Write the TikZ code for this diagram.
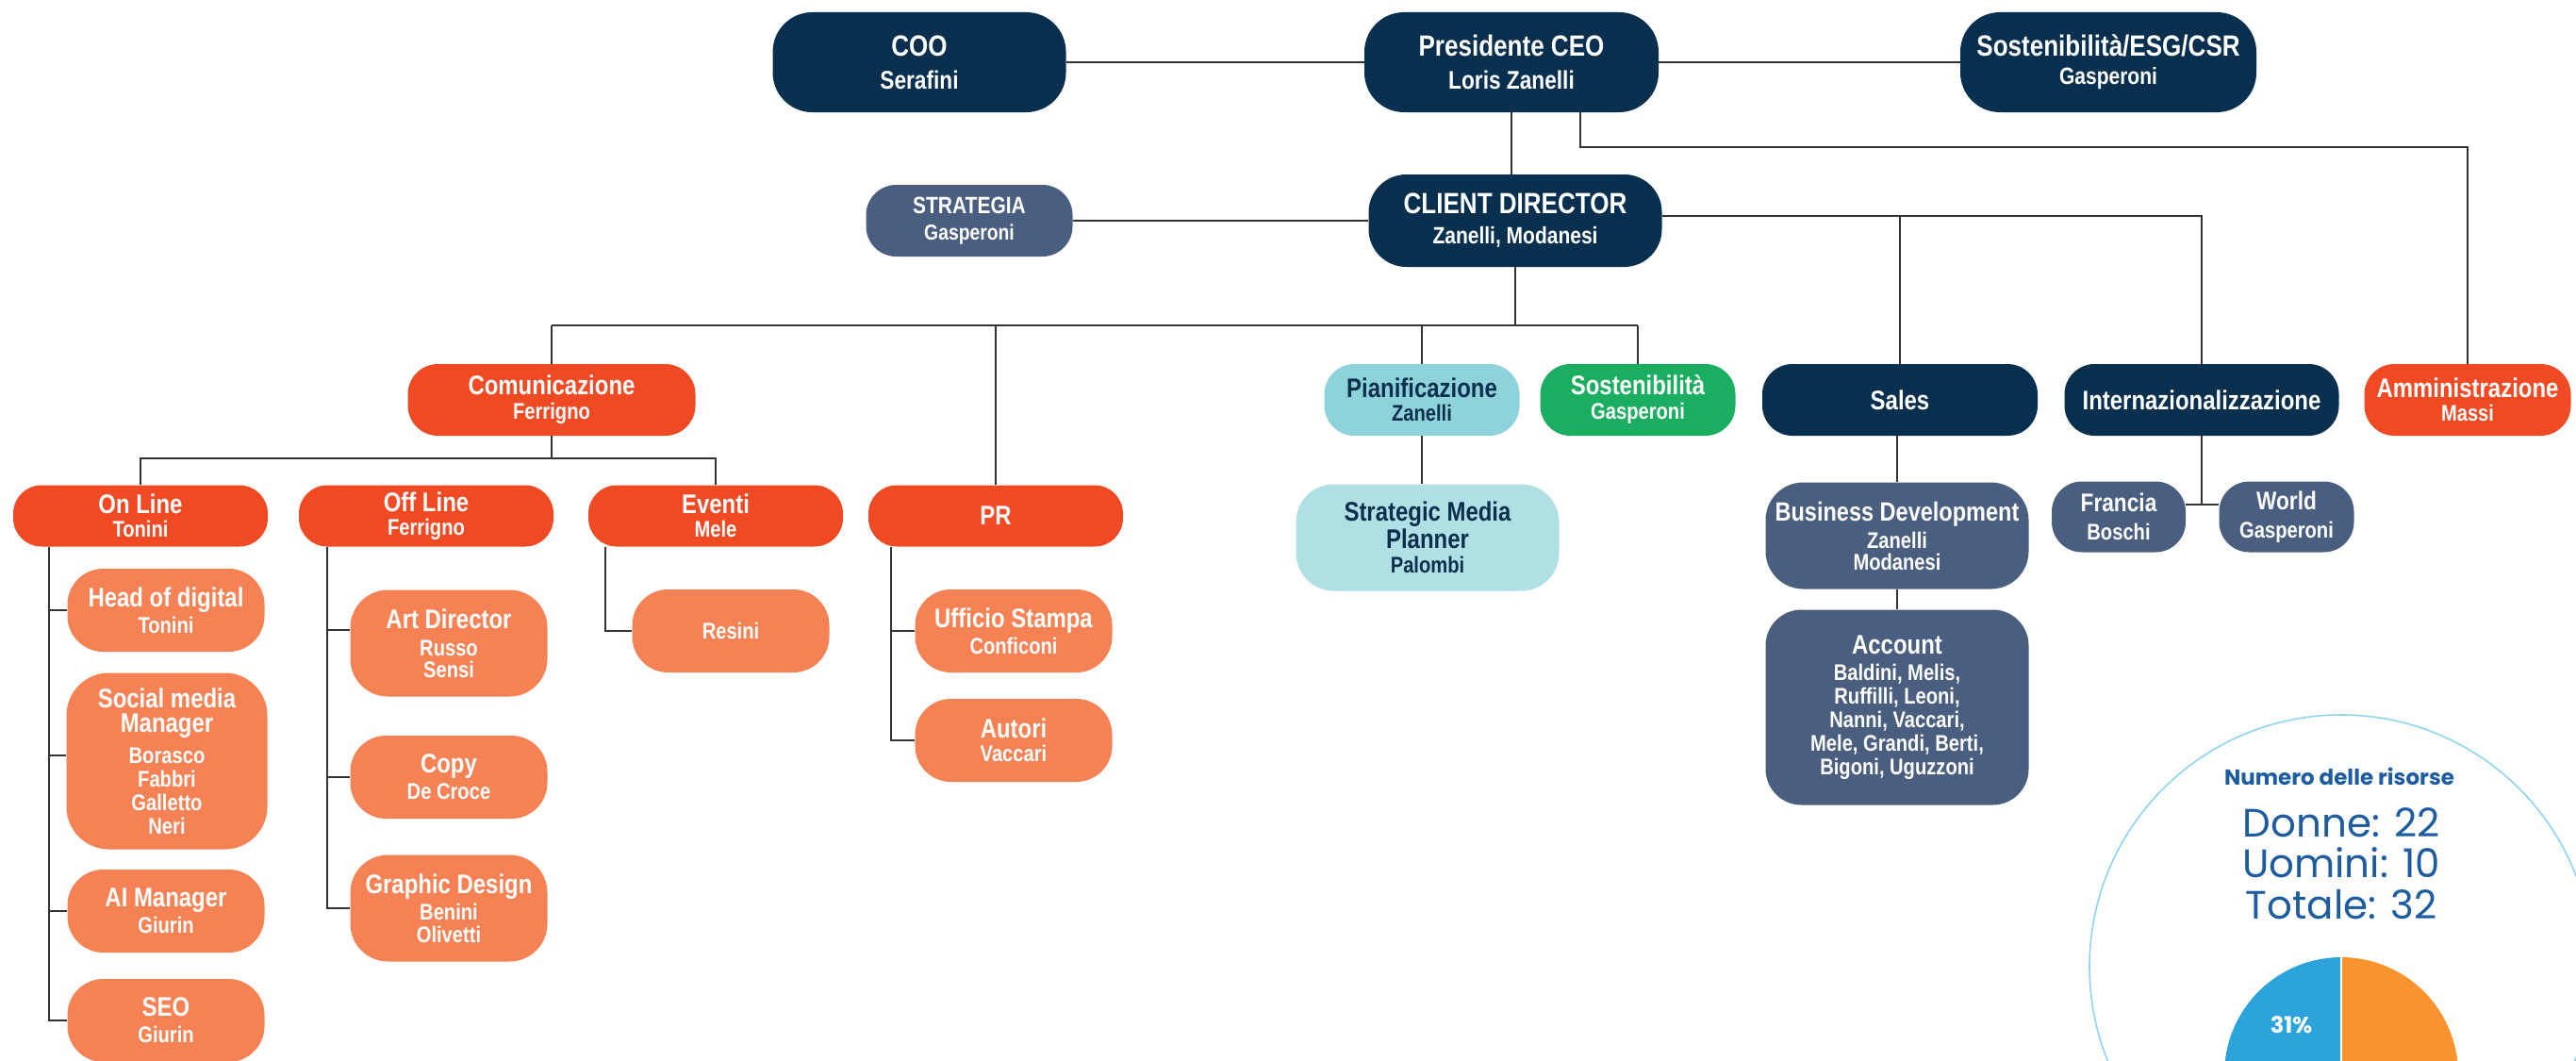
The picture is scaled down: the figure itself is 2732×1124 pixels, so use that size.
\documentclass[tikz,border=0pt]{standalone}
\usepackage{fontspec}
\setmainfont{Liberation Sans}[FakeStretch=0.84]
\newfontfamily\popfont{Poppins}
\definecolor{navy}{HTML}{08304E}
\definecolor{slate}{HTML}{4A5F7F}
\definecolor{redor}{HTML}{F04A24}
\definecolor{lightor}{HTML}{F48254}
\definecolor{tealc}{HTML}{8ED3DA}
\definecolor{ltealc}{HTML}{B0DFE4}
\definecolor{greenc}{HTML}{1BAE60}
\definecolor{linegray}{HTML}{333333}
\definecolor{circblue}{HTML}{8FD4F2}
\definecolor{txtblue}{HTML}{1D5C9F}
\definecolor{pieblue}{HTML}{2CA3DB}
\definecolor{pieorange}{HTML}{F7942E}
\newcommand\szTop{\fontsize{31}{31}\selectfont}
\newcommand\szTit{\fontsize{28.5}{28.5}\selectfont}
\tikzset{
  nbox/.style={rectangle, inner sep=0pt, align=center, text=white,
    font=\bfseries\fontsize{24}{25}\selectfont},
  conn/.style={draw=linegray, line width=1.4pt},
}
\begin{document}
\begin{tikzpicture}[x=1pt,y=-1pt]
\useasboundingbox (0,0) rectangle (2732,1124);
\clip (0,0) rectangle (2732,1124);
\fill[white] (0,0) rectangle (2732,1124);

% ---------- top level
\node[nbox, fill=navy, minimum width=311pt, minimum height=106pt, rounded corners=42pt,
  font=\bfseries\fontsize{27}{28}\selectfont] (coo) at (975,66) {{\szTop COO}\\[7pt]Serafini};
\node[nbox, fill=navy, minimum width=312pt, minimum height=106pt, rounded corners=42pt,
  font=\bfseries\fontsize{27}{28}\selectfont] (ceo) at (1603,66) {{\szTop Presidente CEO}\\[7pt]Loris Zanelli};
\node[nbox, fill=navy, minimum width=314pt, minimum height=106pt, rounded corners=42pt,
  font=\bfseries\fontsize{25}{26}\selectfont] (esg) at (2236,66) {{\szTop Sostenibilità/ESG/CSR}\\[4pt]Gasperoni};
\node[nbox, fill=slate, minimum width=219pt, minimum height=76pt, rounded corners=32pt,
  font=\bfseries\fontsize{23}{24}\selectfont] (strat) at (1028,234) {{\fontsize{25}{25}\selectfont STRATEGIA}\\[4pt]Gasperoni};
\node[nbox, fill=navy, minimum width=311pt, minimum height=98pt, rounded corners=40pt,
  font=\bfseries\fontsize{25}{26}\selectfont] (cd) at (1607,234) {{\szTop CLIENT DIRECTOR}\\[6pt]Zanelli, Modanesi};

% ---------- second level
\node[nbox, fill=redor, minimum width=305pt, minimum height=76pt, rounded corners=32pt] (comm) at (585,424) {{\szTit Comunicazione}\\[1pt]Ferrigno};
\node[nbox, fill=tealc, text=navy, minimum width=207pt, minimum height=76pt, rounded corners=32pt] (pian) at (1508,424) {{\szTit Pianificazione}\\[0pt]Zanelli};
\node[nbox, fill=greenc, minimum width=207pt, minimum height=76pt, rounded corners=32pt] (sost) at (1737,424) {{\szTit Sostenibilità}\\[1pt]Gasperoni};
\node[nbox, fill=navy, minimum width=292pt, minimum height=76pt, rounded corners=32pt] (sales) at (2015,424) {\szTit Sales};
\node[nbox, fill=navy, minimum width=291pt, minimum height=76pt, rounded corners=32pt] (intl) at (2335,424) {\szTit Internazionalizzazione};
\node[nbox, fill=redor, minimum width=219pt, minimum height=76pt, rounded corners=32pt] (amm) at (2617,424) {{\szTit Amministrazione}\\[0pt]Massi};

% ---------- third level
\node[nbox, fill=redor, minimum width=270pt, minimum height=65pt, rounded corners=30pt] (online) at (149,547) {{\szTit On Line}\\[0pt]Tonini};
\node[nbox, fill=redor, minimum width=270pt, minimum height=65pt, rounded corners=30pt] (offline) at (452,547) {{\szTit Off Line}\\[0pt]Ferrigno};
\node[nbox, fill=redor, minimum width=270pt, minimum height=65pt, rounded corners=30pt] (eventi) at (759,547) {{\szTit Eventi}\\[0pt]Mele};
\node[nbox, fill=redor, minimum width=270pt, minimum height=65pt, rounded corners=30pt] (pr) at (1056,547) {\szTit PR};
\node[nbox, fill=ltealc, text=navy, minimum width=279pt, minimum height=113pt, rounded corners=40pt] (smp) at (1514,570) {{\szTit Strategic Media}\\[1pt]{\szTit Planner}\\[1pt]Palombi};
\node[nbox, fill=slate, minimum width=279pt, minimum height=113pt, rounded corners=40pt] (bd) at (2012,568) {{\fontsize{28}{28}\selectfont Business Development}\\[4pt]Zanelli\\[-2pt]Modanesi};
\node[nbox, fill=slate, minimum width=142pt, minimum height=75pt, rounded corners=32pt] (francia) at (2247,548) {{\fontsize{27}{27}\selectfont Francia}\\[5pt]Boschi};
\node[nbox, fill=slate, minimum width=143pt, minimum height=75pt, rounded corners=32pt] (world) at (2425,548) {{\fontsize{27}{27}\selectfont World}\\[5pt]Gasperoni};
\node[nbox, fill=slate, minimum width=279pt, minimum height=207pt, rounded corners=38pt] (account) at (2012,750) {{\szTit Account}\\[3pt]Baldini, Melis,\\Ruffilli, Leoni,\\Nanni, Vaccari,\\Mele, Grandi, Berti,\\Bigoni, Uguzzoni};

% ---------- fourth level (light orange)
\node[nbox, fill=lightor, minimum width=209pt, minimum height=88pt, rounded corners=38pt] (hod) at (176,647) {{\szTit Head of digital}\\[3pt]Tonini};
\node[nbox, fill=lightor, minimum width=213pt, minimum height=187pt, rounded corners=45pt] (smm) at (177,807) {{\szTit Social media}\\[1pt]{\szTit Manager}\\[8pt]Borasco\\Fabbri\\Galletto\\Neri};
\node[nbox, fill=lightor, minimum width=209pt, minimum height=88pt, rounded corners=38pt] (aim) at (176,966) {{\szTit AI Manager}\\[3pt]Giurin};
\node[nbox, fill=lightor, minimum width=209pt, minimum height=88pt, rounded corners=38pt] (seo) at (176,1082) {{\szTit SEO}\\[3pt]Giurin};
\node[nbox, fill=lightor, minimum width=209pt, minimum height=113pt, rounded corners=40pt] (artdir) at (476,682) {{\szTit Art Director}\\[4pt]Russo\\[-2pt]Sensi};
\node[nbox, fill=lightor, minimum width=209pt, minimum height=88pt, rounded corners=38pt] (copy) at (476,824) {{\szTit Copy}\\[3pt]De Croce};
\node[nbox, fill=lightor, minimum width=209pt, minimum height=113pt, rounded corners=40pt] (gd) at (476,963) {{\szTit Graphic Design}\\[3pt]Benini\\[-1pt]Olivetti};
\node[nbox, fill=lightor, minimum width=209pt, minimum height=88pt, rounded corners=38pt] (resini) at (775,669) {Resini};
\node[nbox, fill=lightor, minimum width=209pt, minimum height=88pt, rounded corners=38pt] (uff) at (1075,669) {{\szTit Ufficio Stampa}\\[3pt]Conficoni};
\node[nbox, fill=lightor, minimum width=209pt, minimum height=88pt, rounded corners=38pt] (autori) at (1075,785) {{\szTit Autori}\\[0pt]Vaccari};

% ---------- helper coordinates
\coordinate (topbar) at (0,156);
\coordinate (hub) at (0,345);
\coordinate (commbar) at (0,486);
\coordinate (intlbar) at (0,535);
\coordinate (olx) at (52,0);
\coordinate (ofx) at (347,0);
\coordinate (evx) at (642,0);
\coordinate (prx) at (945,0);
\coordinate (cdr) at ([yshift=5pt]cd.east);

% ---------- connectors
\draw[conn] (coo) -- (ceo);
\draw[conn] (ceo) -- (esg);
\draw[conn] (ceo.south) -- (ceo.south |- cd.north);
\draw[conn] ([xshift=73pt]ceo.south) |- (amm.north |- topbar) -- (amm.north);
\draw[conn] (strat) -- (cd);
\draw[conn] (cdr) -| (intl.north);
\draw[conn] (sales.north) -- (sales.north |- cdr);
\draw[conn] (cd.south) -- (cd.south |- hub);
\draw[conn] (comm.north |- hub) -- (sost.north |- hub);
\draw[conn] (comm.north) -- (comm.north |- hub);
\draw[conn] (pr.north) -- (pr.north |- hub);
\draw[conn] (pian.north) -- (pian.north |- hub);
\draw[conn] (sost.north) -- (sost.north |- hub);
\draw[conn] (comm.south) -- (comm.south |- commbar);
\draw[conn] (online.north) -- (online.north |- commbar) -- (eventi.north |- commbar) -- (eventi.north);
\draw[conn] (online.south -| olx) |- (seo.west);
\draw[conn] (hod.west) -- (hod.west -| olx);
\draw[conn] ([yshift=6pt]smm.west) -- ([yshift=6pt]smm.west -| olx);
\draw[conn] (aim.west) -- (aim.west -| olx);
\draw[conn] (offline.south -| ofx) |- (gd.west);
\draw[conn] ([yshift=14pt]artdir.west) -- ([yshift=14pt]artdir.west -| ofx);
\draw[conn] (copy.west) -- (copy.west -| ofx);
\draw[conn] (eventi.south -| evx) |- (resini.west);
\draw[conn] (pr.south -| prx) |- (autori.west);
\draw[conn] (uff.west) -- (uff.west -| prx);
\draw[conn] (pian.south) -- (pian.south |- smp.north);
\draw[conn] (bd.north |- sales.south) -- (bd.north);
\draw[conn] (bd.south) -- (account.north);
\draw[conn] (intl.south) -- (intl.south |- intlbar);
\draw[conn] (francia.east |- intlbar) -- (world.west |- intlbar);

% ---------- resources circle
\draw[circblue, line width=1.6pt] (2483,1025) circle[radius=267pt];
\node[text=txtblue, font=\popfont\bfseries\fontsize{23}{25}\selectfont, anchor=base] (rtitle) at (2481,832) {Numero delle risorse};
\node[text=txtblue, font=\popfont\fontsize{42}{44}\selectfont, anchor=base] (rdonne) at (2483,887) {Donne: 22};
\node[text=txtblue, font=\popfont\fontsize{42}{44}\selectfont, anchor=base] (ruomini) at (2483,930) {Uomini: 10};
\node[text=txtblue, font=\popfont\fontsize{42}{44}\selectfont, anchor=base] (rtot) at (2483,974) {Totale: 32};
\coordinate (pc) at (2483,1139);
\fill[pieblue] (pc) -- ++(90:124pt) arc[start angle=90, end angle=201.6, radius=124pt] -- cycle;
\fill[pieorange] (pc) -- ++(201.6:124pt) arc[start angle=201.6, end angle=450, radius=124pt] -- cycle;
\draw[white, line width=2pt] (pc) -- ++(90:124pt);
\draw[white, line width=2pt] (pc) -- ++(201.6:124pt);
\node[text=white, font=\popfont\bfseries\fontsize{24}{26}\selectfont] (pct) at (2430,1087) {31\%};
\end{tikzpicture}
\end{document}
